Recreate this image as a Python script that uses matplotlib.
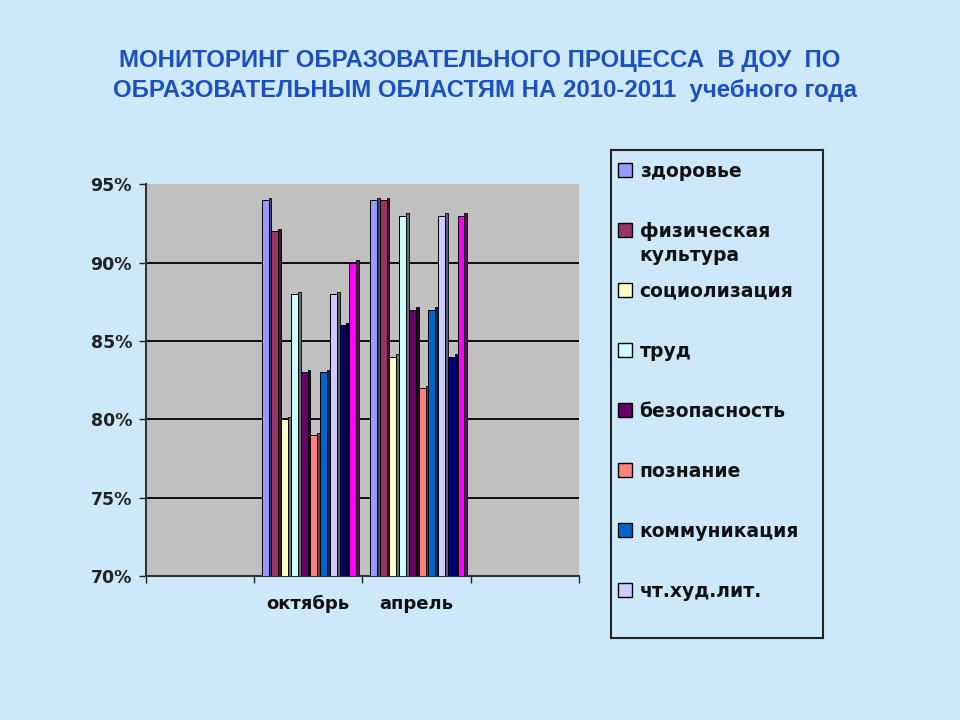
import matplotlib
matplotlib.use("Agg")
import matplotlib.pyplot as plt
import matplotlib.colors as mcolors
from matplotlib.patches import Rectangle
import numpy as np

categories = ["", "октябрь", "апрель", ""]
series_names = ["здоровье", "физическая\nкультура", "социолизация", "труд",
                "безопасность", "познание", "коммуникация", "чт.худ.лит.",
                "", ""]
october = [94, 92, 80, 88, 83, 79, 83, 88, 86, 90]
april = [94, 94, 84, 93, 87, 82, 87, 93, 84, 93]
colors = ["#9999FF", "#993366", "#FFFFCC", "#CCFFFF", "#660066",
          "#FF8080", "#0066CC", "#CCCCFF", "#000080", "#FF00FF"]
yticks = [70, 75, 80, 85, 90, 95]

bg = "#CDE9F9"
title_color = "#1C4FBF"

fig = plt.figure(figsize=(9.6, 7.2), dpi=100, facecolor=bg)
ax = fig.add_axes([0.152, 0.2, 0.451, 0.544])
ax.set_facecolor("#C0C0C0")

values = [[0, october[i], april[i], 0] for i in range(len(colors))]
n = len(colors)
group_w = 0.9
slot = group_w / n
face_w = slot * 0.70
side_w = slot * 0.30
x = np.arange(len(categories))

def darker(c, f=0.45):
    r, g, b = mcolors.to_rgb(c)
    return (r * f, g * f, b * f)

for i in range(n):
    vals = np.array(values[i], dtype=float)
    mask = vals > 0
    left = x[mask] - group_w / 2 + i * slot + 0.02
    h = vals[mask] - 70
    ax.bar(left + face_w, h + 0.15, width=side_w, bottom=70, align="edge",
           color=darker(colors[i]), edgecolor="black", linewidth=0.6, zorder=3)
    ax.bar(left, h, width=face_w, bottom=70, align="edge",
           color=colors[i], edgecolor="black", linewidth=0.7, zorder=4)

ax.set_xlim(-0.5, 3.5)
ax.set_ylim(70, 95)
ax.set_yticks(yticks)
ax.set_yticklabels([f"{v}%" for v in yticks], fontsize=12.5, fontweight="bold",
                   color="#111111")
for v in yticks[1:-1]:
    ax.axhline(v, color="black", lw=1.3, zorder=1)
ax.set_xticks(np.arange(-0.5, 4.0, 1.0))
ax.set_xticklabels([])
for xi, c in zip(x, categories):
    if c:
        ax.text(xi, 68.2, c, ha="center", va="center", fontsize=13,
                fontweight="bold", color="#111111")
ax.tick_params(axis="both", direction="out", length=5, width=1, colors="#222222")
ax.tick_params(axis="y", pad=5)
for s in ["top", "right"]:
    ax.spines[s].set_visible(False)
ax.spines["left"].set_color("#333333")
ax.spines["bottom"].set_color("#333333")
ax.spines["left"].set_linewidth(1.5)
ax.spines["bottom"].set_linewidth(1.5)

fig.text(0.5, 0.916, "МОНИТОРИНГ ОБРАЗОВАТЕЛЬНОГО ПРОЦЕССА  В ДОУ  ПО",
         ha="center", va="center", fontsize=17.3, fontweight="bold",
         color=title_color, family="Liberation Sans")
fig.text(0.505, 0.874, "ОБРАЗОВАТЕЛЬНЫМ ОБЛАСТЯМ НА 2010-2011  учебного года",
         ha="center", va="center", fontsize=17.3, fontweight="bold",
         color=title_color, family="Liberation Sans")

# legend box
lax = fig.add_axes([0.636, 0.114, 0.221, 0.678])
lax.set_xlim(0, 212)
lax.set_ylim(488, 0)
lax.set_facecolor(bg)
lax.set_xticks([])
lax.set_yticks([])
for s in lax.spines.values():
    s.set_color("#222222")
    s.set_linewidth(1.5)
for k in range(8):
    yc = 20 + k * 60
    lax.add_patch(Rectangle((7, yc - 7), 14, 14, facecolor=colors[k],
                            edgecolor="black", lw=1))
    lax.text(29, yc - 8, series_names[k], ha="left", va="top", fontsize=13.5,
             fontweight="bold", color="#111111", linespacing=1.35)

fig.savefig("out.png", dpi=100, facecolor=bg)
